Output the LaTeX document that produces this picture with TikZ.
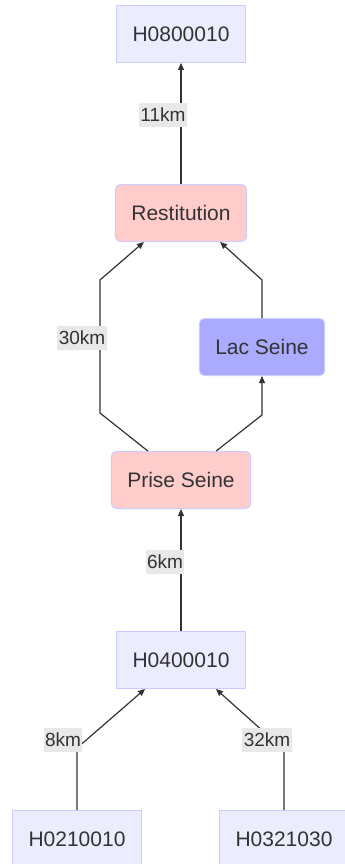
\documentclass[tikz,border=0pt]{standalone}
\usepackage{fontspec}
\setmainfont{Liberation Sans}
\usetikzlibrary{arrows.meta}
\definecolor{boxfill}{HTML}{ECECFF}
\definecolor{boxline}{HTML}{CCCCFF}
\definecolor{pinkfill}{HTML}{FFCCCC}
\definecolor{lakefill}{HTML}{AAAAFF}
\definecolor{linkline}{HTML}{333333}
\definecolor{lblfill}{HTML}{E8E8E8}
\tikzset{
  station/.style={draw=boxline, fill=boxfill, line width=1pt, text=linkline, font=\fontsize{21}{25}\selectfont, minimum height=57pt, inner xsep=16pt},
  works/.style={station, fill=pinkfill, rounded corners=5pt},
  lake/.style={station, fill=lakefill, rounded corners=5pt},
  link/.style={draw=linkline, line width=1.2pt, -{Triangle[length=7pt,width=6pt]}},
  dist/.style={fill=lblfill, text=linkline, font=\fontsize{19}{22}\selectfont, inner xsep=1.5pt, inner ysep=3pt, minimum height=24pt}
}

\begin{document}
\begin{tikzpicture}[x=1pt,y=-1pt]
\useasboundingbox (0,0) rectangle (345,864);

% stations and works
\node[station] (h08) at (181, 34) {H0800010};
\node[works] (rest) at (181, 213) {Restitution};
\node[lake] (lac) at (262, 347) {Lac Seine};
\node[works] (prise) at (181, 480) {Prise Seine};
\node[station] (h04) at (181, 660) {H0400010};
\node[station] (h02) at (77, 839) {H0210010};
\node[station] (h03) at (284, 839) {H0321030};

% bends
\coordinate (bypass low) at (100, 413);
\coordinate (bypass high) at (100, 280);
\coordinate (lake low) at (262, 415);
\coordinate (lake high) at (262, 280);
\coordinate (left bend) at (77, 748);
\coordinate (right bend) at (284, 750);

% links
\draw[link] (rest) -- (h08);
\draw[link] ([xshift=37pt]prise.north west) -- (bypass low) -- (bypass high) -- ([xshift=29pt]rest.south west);
\draw[link] ([xshift=-35pt]prise.north east) -- (lake low) -- (lac.south);
\draw[link] (lac.north) -- (lake high) -- ([xshift=-27pt]rest.south east);
\draw[link] (h04) -- (prise);
\draw[link] (h02.north) -- (left bend) -- ([xshift=29pt]h04.south west);
\draw[link] (h03.north) -- (right bend) -- ([xshift=-30pt]h04.south east);

% distances
\node[dist] (d11) at (163, 115) {11km};
\node[dist] (d30) at (82, 338) {30km};
\node[dist] (d6) at (165, 562) {6km};
\node[dist] (d8) at (63, 740) {8km};
\node[dist] (d32) at (267, 740) {32km};

\end{tikzpicture}
\end{document}
